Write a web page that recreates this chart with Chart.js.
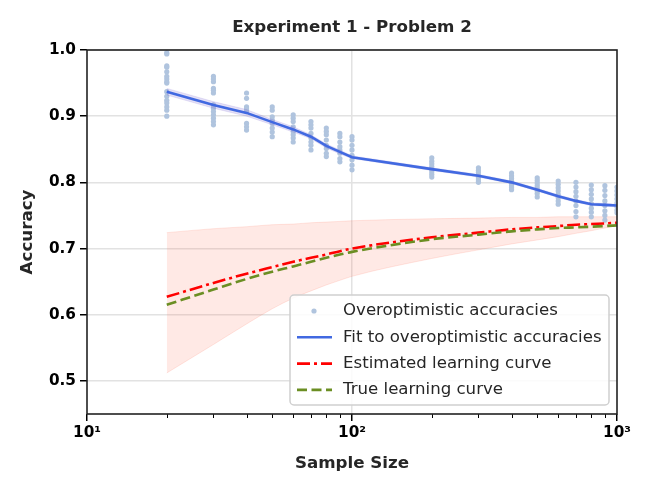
<!DOCTYPE html>
<html><head><meta charset="utf-8">
<script src="https://cdn.jsdelivr.net/npm/chart.js@4.4.1/dist/chart.umd.min.js"></script>
<style>html,body{margin:0;padding:0;background:#fff}#wrap{width:653px;height:494px;position:relative}</style>
</head><body><div id="wrap"><canvas id="c" width="653" height="494"></canvas></div>
<script>
// ---- data ----
const chartTitle = 'Experiment 1 - Problem 2';
const sampleSizes = [20,30,40,50,60,70,80,90,100,200,300,400,500,600,700,800,900,1000];
const overoptimisticAcc = [
  [0.996,0.994,0.976,0.974,0.967,0.960,0.956,0.952,0.950,0.937,0.930,0.924,0.920,0.914,0.909,0.900],
  [0.960,0.956,0.952,0.942,0.939,0.935,0.917,0.912,0.907,0.902,0.897,0.892,0.887],
  [0.935,0.927,0.914,0.911,0.907,0.889,0.884,0.879],
  [0.914,0.909,0.899,0.894,0.889,0.882,0.876,0.869],
  [0.902,0.897,0.892,0.884,0.877,0.872,0.867,0.861],
  [0.892,0.887,0.882,0.874,0.867,0.861,0.856,0.849],
  [0.882,0.877,0.872,0.864,0.856,0.851,0.844,0.839],
  [0.874,0.869,0.861,0.854,0.849,0.844,0.836,0.831],
  [0.869,0.864,0.856,0.849,0.841,0.834,0.826,0.819],
  [0.837,0.832,0.828,0.824,0.820,0.816,0.812,0.808],
  [0.822,0.818,0.815,0.811,0.808,0.805,0.802,0.800],
  [0.814,0.810,0.806,0.802,0.798,0.795,0.792,0.789],
  [0.807,0.803,0.799,0.795,0.791,0.787,0.783,0.778],
  [0.802,0.797,0.792,0.787,0.782,0.777,0.772,0.767],
  [0.800,0.793,0.786,0.779,0.772,0.765,0.756,0.748],
  [0.796,0.789,0.782,0.775,0.768,0.761,0.755,0.748],
  [0.795,0.788,0.780,0.772,0.765,0.757,0.750,0.743],
  [0.793,0.787,0.781,0.775,0.769,0.763,0.758,0.754]
];
const fitAcc   = [0.937,0.917,0.905,0.891,0.880,0.869,0.855,0.846,0.838,0.820,0.810,0.800,0.789,0.779,0.772,0.767,0.766,0.765];
const fitUpper = [0.942,0.922,0.910,0.895,0.884,0.872,0.858,0.849,0.840,0.822,0.812,0.802,0.791,0.781,0.774,0.769,0.768,0.767];
const fitLower = [0.932,0.912,0.900,0.887,0.876,0.866,0.852,0.843,0.836,0.818,0.808,0.798,0.787,0.777,0.770,0.765,0.764,0.763];
const estimatedCurve = [0.627,0.648,0.662,0.672,0.680,0.686,0.691,0.696,0.700,0.717,0.724,0.729,0.732,0.734,0.736,0.737,0.738,0.739];
const estimatedUpper = [0.724,0.730,0.733,0.736,0.737,0.739,0.740,0.741,0.742,0.745,0.746,0.747,0.747,0.748,0.748,0.748,0.748,0.748];
const estimatedLower = [0.512,0.555,0.586,0.609,0.625,0.636,0.645,0.652,0.658,0.685,0.698,0.707,0.713,0.718,0.723,0.727,0.731,0.735];
const trueCurve = [0.615,0.638,0.654,0.665,0.673,0.680,0.686,0.691,0.695,0.714,0.721,0.726,0.729,0.731,0.732,0.733,0.734,0.735];
const yTicks = [0.5,0.6,0.7,0.8,0.9,1.0];
const xMajorTicks = [10,100,1000];
const xMajorLabels = ['10\u00B9','10\u00B2','10\u00B3'];
const xMinorTicks = [20,30,40,50,60,70,80,90,200,300,400,500,600,700,800,900];

// ---- build ----
const pts = (ys) => sampleSizes.map((x,i)=>({x, y: ys[i]}));
const scatterPts = [];
sampleSizes.forEach((s,i)=>overoptimisticAcc[i].forEach(v=>scatterPts.push({x:s,y:v})));

const FONT = 'DejaVu Sans';
const LABEL_SIZE = 16.7;
const datasets = [
  {label:'_estLower', data:pts(estimatedLower), showLine:true, pointRadius:0, borderColor:'rgba(255,99,71,0.15)', borderWidth:1, fill:false, order:10, cubicInterpolationMode:'monotone'},
  {label:'_estUpper', data:pts(estimatedUpper), showLine:true, pointRadius:0, borderColor:'rgba(255,99,71,0.15)', borderWidth:1, backgroundColor:'rgba(255,99,71,0.14)', fill:'-1', order:9, cubicInterpolationMode:'monotone'},
  {label:'Overoptimistic accuracies', data:scatterPts, showLine:false, pointRadius:2.6, pointBackgroundColor:'#b0c4de', pointBorderWidth:0, backgroundColor:'#b0c4de', order:8},
  {label:'_fitLower', data:pts(fitLower), showLine:true, pointRadius:0, borderColor:'rgba(120,100,210,0.15)', borderWidth:1, fill:false, order:7},
  {label:'_fitUpper', data:pts(fitUpper), showLine:true, pointRadius:0, borderColor:'rgba(120,100,210,0.15)', borderWidth:1, backgroundColor:'rgba(120,100,210,0.2)', fill:'-1', order:6},
  {label:'Fit to overoptimistic accuracies', data:pts(fitAcc), showLine:true, pointRadius:0, borderColor:'#4169e1', borderWidth:2.6, fill:false, order:5},
  {label:'Estimated learning curve', data:pts(estimatedCurve), showLine:true, pointRadius:0, borderColor:'#ff0000', borderWidth:2.6, borderDash:[13,4,3,4], fill:false, order:4, cubicInterpolationMode:'monotone'},
  {label:'True learning curve', data:pts(trueCurve), showLine:true, pointRadius:0, borderColor:'#6b8e23', borderWidth:2.6, borderDash:[10,4.5], fill:false, order:3, cubicInterpolationMode:'monotone'}
];

const framePlugin = {
  id:'frame',
  afterDatasetsDraw(chart){
    const {ctx, chartArea:a} = chart;
    const xs = chart.scales.x;
    ctx.save();
    ctx.strokeStyle = '#000';
    ctx.lineWidth = 1;
    xMinorTicks.forEach(v=>{
      const px = Math.round(xs.getPixelForValue(v))+0.5;
      ctx.beginPath(); ctx.moveTo(px, a.bottom); ctx.lineTo(px, a.bottom+4); ctx.stroke();
    });
    ctx.lineWidth = 1.6;
    ctx.strokeStyle = '#222';
    ctx.strokeRect(a.left, a.top, a.right-a.left, a.bottom-a.top);
    // title centred over the plot area
    ctx.fillStyle = '#262626';
    ctx.font = 'bold ' + LABEL_SIZE + 'px "DejaVu Sans"';
    ctx.textAlign = 'center';
    ctx.textBaseline = 'middle';
    ctx.fillText(chartTitle, (a.left + a.right)/2, 28);
    ctx.restore();
  }
};

const legendPlugin = {
  id:'boxLegend',
  afterDraw(chart){
    const {ctx, chartArea:a} = chart;
    const w = 319, h = 110;
    const x0 = a.right - 8 - w, y0 = a.bottom - 9 - h;
    ctx.save();
    ctx.beginPath();
    ctx.roundRect(x0, y0, w, h, 4);
    ctx.fillStyle = 'rgba(255,255,255,0.85)';
    ctx.fill();
    ctx.lineWidth = 1.5;
    ctx.strokeStyle = '#cfcfcf';
    ctx.stroke();
    const items = chart.data.datasets.filter(d=>!d.label.startsWith('_'));
    items.forEach((d,i)=>{
      const cy = y0 + 16 + i*26.3;
      if (d.showLine === false) {
        ctx.beginPath();
        ctx.fillStyle = d.pointBackgroundColor;
        ctx.arc(x0 + 24, cy, 2.6, 0, Math.PI*2);
        ctx.fill();
      } else {
        ctx.beginPath();
        ctx.strokeStyle = d.borderColor;
        ctx.lineWidth = d.borderWidth;
        ctx.setLineDash(d.borderDash || []);
        ctx.moveTo(x0 + 7, cy); ctx.lineTo(x0 + 42, cy);
        ctx.stroke();
        ctx.setLineDash([]);
      }
      ctx.fillStyle = '#262626';
      ctx.font = '16.6px "DejaVu Sans"';
      ctx.textBaseline = 'middle';
      ctx.textAlign = 'left';
      ctx.fillText(d.label, x0 + 53, cy);
    });
    ctx.restore();
  }
};

new Chart(document.getElementById('c'), {
  type:'scatter',
  data:{datasets},
  plugins:[framePlugin, legendPlugin],
  options:{
    responsive:false,
    animation:false,
    layout:{padding:{left:0,right:36,top:50,bottom:0}},
    plugins:{
      legend:{display:false},
      tooltip:{enabled:false},
      title:{display:false}
    },
    scales:{
      x:{
        type:'logarithmic', min:10, max:1000,
        afterFit(s){ s.height = 80; },
        afterBuildTicks(s){
          s.ticks = [...xMajorTicks, ...xMinorTicks].sort((a,b)=>a-b).map(v=>({value:v, major: xMajorTicks.includes(v)}));
        },
        border:{display:false},
        grid:{
          color:(c)=> (c.tick && c.tick.value===100) ? '#e2e2e2' : 'rgba(0,0,0,0)',
          lineWidth:1.5,
          tickColor:(c)=> (c.tick && xMajorTicks.includes(c.tick.value)) ? '#000' : 'rgba(0,0,0,0)',
          tickLength:7, tickWidth:1.5
        },
        ticks:{
          autoSkip:false, maxRotation:0, minRotation:0, padding:3, color:'#000',
          font:{family:FONT, size:15.3, weight:'bold'},
          callback:(v)=>{ const i = xMajorTicks.indexOf(v); return i>=0 ? xMajorLabels[i] : ''; }
        },
        title:{display:true, text:'Sample Size', color:'#262626', font:{family:FONT,size:LABEL_SIZE,weight:'bold'}, padding:{top:0,bottom:20}}
      },
      y:{
        type:'linear', min:0.45, max:1.0,
        afterFit(s){ s.width = 87; },
        afterBuildTicks(s){ s.ticks = yTicks.map(v=>({value:v})); },
        border:{display:false},
        grid:{color:'#e2e2e2', lineWidth:1.5, tickColor:'#000', tickLength:7, tickWidth:1.5},
        ticks:{padding:4, color:'#000', font:{family:FONT,size:15.3,weight:'bold'}, callback:(v)=>Number(v).toFixed(1)},
        title:{display:true, text:'Accuracy', color:'#262626', font:{family:FONT,size:LABEL_SIZE,weight:'bold'}, padding:{top:18,bottom:0}}
      }
    }
  }
});
</script>
</body></html>
